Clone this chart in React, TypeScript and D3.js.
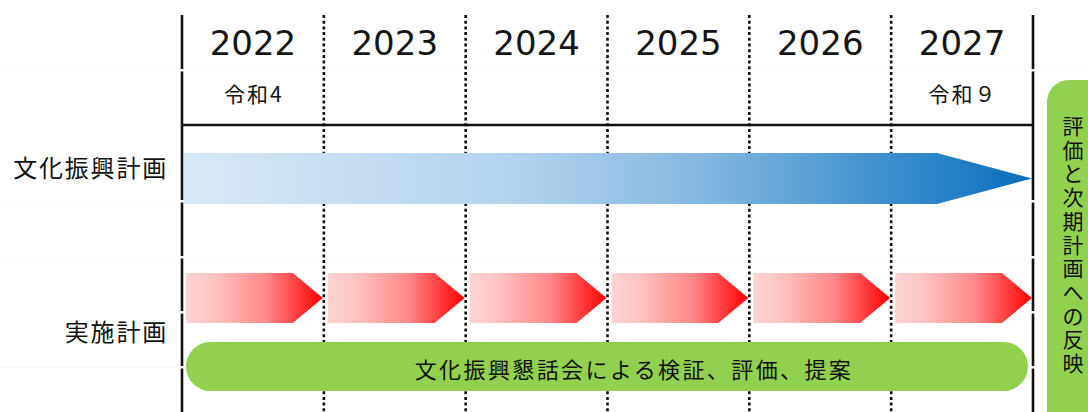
import React from "react";
import * as d3 from "d3";

const years = [2022, 2023, 2024, 2025, 2026, 2027];
const eraLabels = ["令和4", "", "", "", "", "令和９"];
const rowLabels = ["文化振興計画", "実施計画"];
const planSpan = [2022, 2028];
const implYears = [2022, 2023, 2024, 2025, 2026, 2027];
const councilSpan = [2022, 2028];
const councilText = "文化振興懇話会による検証、評価、提案";
const sideText = "評価と次期計画への反映";
const rowBorders = [70, 201, 257, 312, 367];

const W = 1088;
const H = 412;
const JP = "'Noto Sans CJK JP', 'Noto Sans', sans-serif";

export default function App() {
  const x = d3.scaleLinear().domain([2022, 2028]).range([182, 1033]);
  const allLines = d3.range(2022, 2029);

  const bx0 = x(planSpan[0]) + 2;
  const bx1 = x(planSpan[1]) - 1;
  const bTop = 153, bBot = 204, bMid = (bTop + bBot) / 2;
  const bPath = d3.path();
  bPath.moveTo(bx0, bTop);
  bPath.lineTo(bx1 - 95, bTop);
  bPath.lineTo(bx1, bMid);
  bPath.lineTo(bx1 - 95, bBot);
  bPath.lineTo(bx0, bBot);
  bPath.closePath();

  const rTop = 273, rBot = 323, rMid = (rTop + rBot) / 2;
  const redPath = (yr: number) => {
    const p = d3.path();
    const a = x(yr) + 4;
    const b = x(yr + 1) - 1;
    p.moveTo(a, rTop);
    p.lineTo(b - 30, rTop);
    p.lineTo(b, rMid);
    p.lineTo(b - 30, rBot);
    p.lineTo(a, rBot);
    p.closePath();
    return p.toString();
  };

  const gx0 = x(councilSpan[0]) + 4;
  const gx1 = x(councilSpan[1]) - 5;
  const gTop = 342, gBot = 391;

  return (
    <svg width={W} height={H} style={{ position: "absolute", left: 0, top: 0, background: "#fff" }}>
      <defs>
        <linearGradient id="blueG" x1="0" x2="1" y1="0" y2="0">
          <stop offset="0" stopColor="#d9e8f5" />
          <stop offset="0.4" stopColor="#b2d2ec" />
          <stop offset="0.62" stopColor="#80b6e0" />
          <stop offset="0.88" stopColor="#2d86c9" />
          <stop offset="1" stopColor="#0b6cba" />
        </linearGradient>
        <linearGradient id="redG" x1="0" x2="1" y1="0" y2="0">
          <stop offset="0" stopColor="#ffd3d3" />
          <stop offset="0.2" stopColor="#ffc4c4" />
          <stop offset="0.6" stopColor="#ff8585" />
          <stop offset="1" stopColor="#ff0000" />
        </linearGradient>
      </defs>

      {rowBorders.map((y) => (
        <line key={"rb" + y} x1={0} x2={W} y1={y} y2={y} stroke="#f8f8f8" strokeWidth={1} />
      ))}

      {allLines.slice(1, -1).map((yr) => (
        <line key={"d" + yr} x1={x(yr)} x2={x(yr)} y1={15} y2={H} stroke="#111" strokeWidth={2.6} strokeDasharray="3 2.7" />
      ))}
      {[allLines[0], allLines[allLines.length - 1]].map((yr) => (
        <line key={"s" + yr} x1={x(yr)} x2={x(yr)} y1={15} y2={H} stroke="#111" strokeWidth={2.6} />
      ))}
      {[allLines[0], allLines[allLines.length - 1]].map((yr) =>
        rowBorders.map((y) => (
          <rect key={"g" + yr + "-" + y} x={x(yr) - 2} y={y - 1} width={4} height={2.5} fill="#fff" />
        ))
      )}
      <line x1={x(2022)} x2={x(2028)} y1={125} y2={125} stroke="#111" strokeWidth={2.6} />

      {years.map((yr) => (
        <text key={"y" + yr} x={(x(yr) + x(yr + 1)) / 2} y={55} textAnchor="middle" fontFamily="'DejaVu Sans', sans-serif" fontSize={34} fill="#151515">
          {yr}
        </text>
      ))}
      {years.map((yr, i) =>
        eraLabels[i] ? (
          <text key={"e" + yr} x={(x(yr) + x(yr + 1)) / 2 + 1} y={102} textAnchor="middle" fontFamily={JP} fontSize={21} letterSpacing={2} fill="#111">
            {eraLabels[i]}
          </text>
        ) : null
      )}

      <text x={168} y={166} textAnchor="end" dominantBaseline="central" fontFamily={JP} fontSize={24} letterSpacing={1.8} fill="#111">
        {rowLabels[0]}
      </text>
      <text x={168} y={330} textAnchor="end" dominantBaseline="central" fontFamily={JP} fontSize={24} letterSpacing={1.8} fill="#111">
        {rowLabels[1]}
      </text>

      <path d={bPath.toString()} fill="url(#blueG)" />
      {implYears.map((yr) => (
        <path key={"r" + yr} d={redPath(yr)} fill="url(#redG)" />
      ))}

      <rect x={gx0} y={gTop} width={gx1 - gx0} height={gBot - gTop} rx={(gBot - gTop) / 2} fill="#92d050" />
      <text x={634} y={(gTop + gBot) / 2 + 1} textAnchor="middle" dominantBaseline="central" fontFamily={JP} fontSize={22} letterSpacing={2.4} fill="#111">
        {councilText}
      </text>

      <rect x={1047} y={80} width={70} height={400} rx={22} fill="#92d050" />
      <text x={1073} textAnchor="middle" fontFamily={JP} fontSize={21} fill="#111">
        {sideText.split("").map((ch, i) => (
          <tspan key={i} x={1073} y={125 + i * 23.7} dominantBaseline="central">
            {ch}
          </tspan>
        ))}
      </text>
    </svg>
  );
}
